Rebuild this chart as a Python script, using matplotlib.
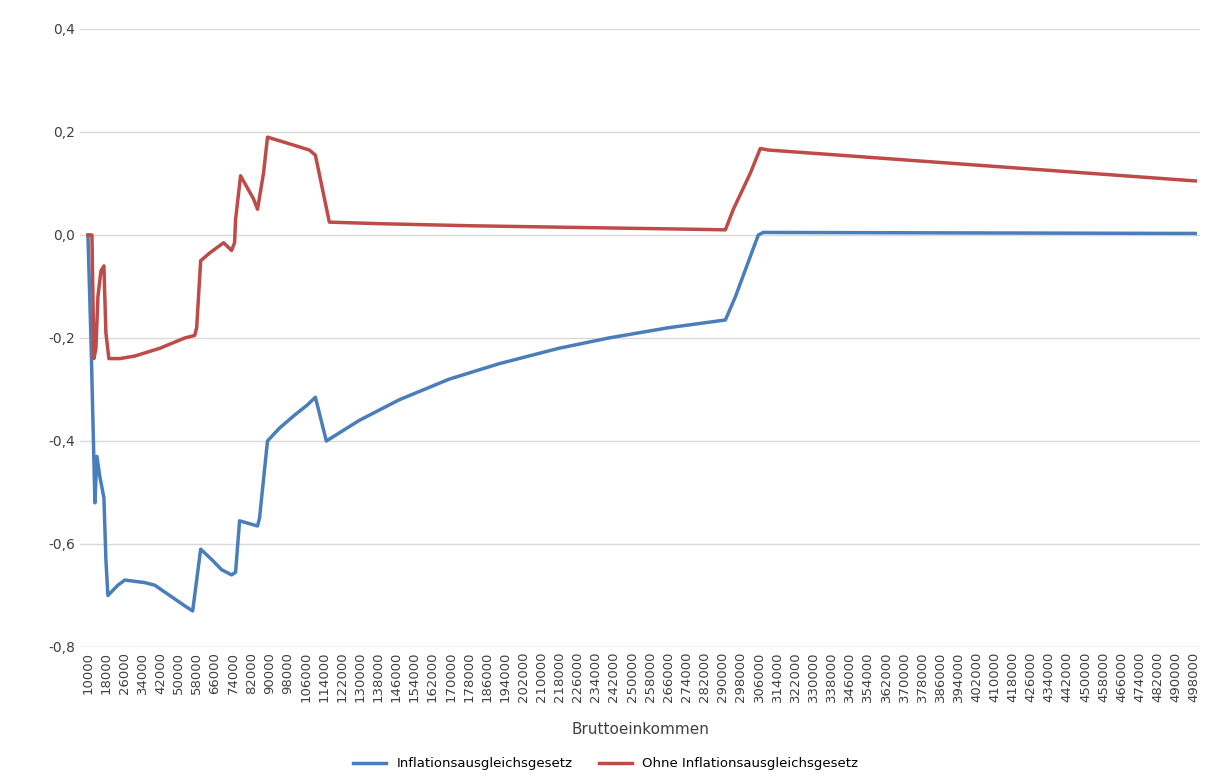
import matplotlib.pyplot as plt
import numpy as np

# Blue series: Inflationsausgleichsgesetz
blue_x = [10000, 11320, 13080, 13960, 15280, 17040, 17920, 18800, 23200, 26280, 35080, 39480,
          46080, 52680, 56200, 59720, 64560, 68960, 73360, 75120, 76880, 84800, 85680, 89200,
          94480, 101080, 106800, 110320, 115160, 129680, 147280, 169280, 191280, 217680,
          239680, 266080, 291160, 295560, 305680, 307880, 498400]
blue_y = [0.0, -0.2, -0.52, -0.43, -0.47, -0.51, -0.63, -0.70, -0.68, -0.67, -0.675, -0.68,
          -0.70, -0.72, -0.73, -0.61, -0.63, -0.65, -0.66, -0.655, -0.555, -0.565, -0.55, -0.40,
          -0.375, -0.35, -0.33, -0.315, -0.40, -0.36, -0.32, -0.28, -0.25, -0.22,
          -0.20, -0.18, -0.165, -0.12, 0.0, 0.005, 0.003]

# Red series: Ohne Inflationsausgleichsgesetz
red_x = [10000, 11760, 12640, 13520, 14400, 15720, 17040, 17920, 19240, 24080, 30680, 41680,
         52680, 57080, 57960, 59720, 63680, 69840, 73360, 74680, 75120, 77320, 83040, 84800,
         87440, 89200, 96680, 107680, 110320, 113400, 116480, 138480, 178080, 235280, 279280,
         291160, 294680, 302160, 306560, 310080, 498400]
red_y = [0.0, 0.0, -0.24, -0.22, -0.12, -0.07, -0.06, -0.19, -0.24, -0.24, -0.235, -0.22,
         -0.20, -0.195, -0.18, -0.05, -0.035, -0.015, -0.03, -0.015, 0.03, 0.115, 0.07, 0.05,
         0.12, 0.19, 0.18, 0.165, 0.155, 0.09, 0.025, 0.022, 0.018, 0.014, 0.011,
         0.01, 0.05, 0.12, 0.168, 0.165, 0.105]

x_ticks = list(range(10000, 498001, 8000))
y_ticks = [-0.8, -0.6, -0.4, -0.2, 0.0, 0.2, 0.4]

fig = plt.figure(figsize=(12.11, 7.82), dpi=100)
ax = fig.add_axes([80 / 1211, 1 - 647 / 782, 1120 / 1211, 618 / 782])

ax.plot(blue_x, blue_y, color="#4a7ebb", lw=2.5, label="Inflationsausgleichsgesetz")
ax.plot(red_x, red_y, color="#be4b48", lw=2.5, label="Ohne Inflationsausgleichsgesetz")

ax.set_xlim(6500, 500500)
ax.set_ylim(-0.8, 0.4)
ax.set_yticks(y_ticks)
ax.set_yticklabels([f"{v:.1f}".replace(".", ",") for v in y_ticks], fontsize=10, color="#404040")
ax.set_xticks(x_ticks)
ax.set_xticklabels([str(v) for v in x_ticks], rotation=90, fontsize=9.5, color="#404040")
ax.tick_params(length=0)
ax.grid(axis="y", color="#d9d9d9", lw=1)
ax.set_axisbelow(True)
for s in ax.spines.values():
    s.set_visible(False)
ax.axhline(-0.8, color="#d9d9d9", lw=1)

ax.set_xlabel("Bruttoeinkommen", fontsize=11, color="#404040", labelpad=14)
fig.legend(loc="lower center", ncol=2, frameon=False, fontsize=9.5,
           bbox_to_anchor=(0.5, 0.0), handlelength=2.5)

fig.savefig("out.png", dpi=100)
